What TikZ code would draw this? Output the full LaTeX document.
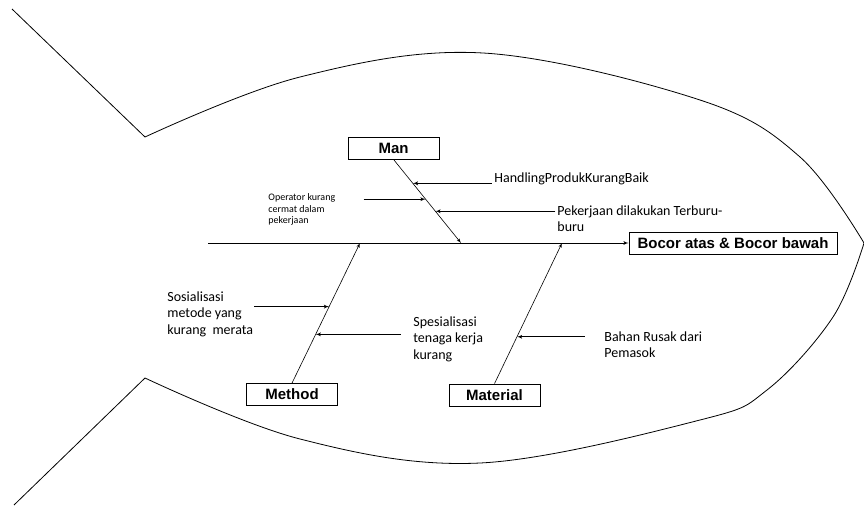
\documentclass[tikz,border=0pt]{standalone}
\usepackage{fontspec}
\usepackage{tikz}
\usetikzlibrary{arrows, calc}
\newfontfamily\boxfont{Liberation Sans}
\newfontfamily\causefont{Carlito}

\begin{document}
\begin{tikzpicture}[x=1pt, y=-1pt, line width=0.8pt]
    % Define the style for the nodes
    \tikzstyle{block} = [rectangle, draw, font=\boxfont\bfseries\fontsize{15}{18}\selectfont, minimum width=91pt, minimum height=22pt, inner sep=0pt]
    \tikzstyle{cause} = [align=left, anchor=north west, inner sep=0pt, font=\causefont\fontsize{14}{16.5}\selectfont]
    \tikzstyle{line} = [draw, -latex']
    \tikzstyle{bone} = [draw, -latex', line width=0.6pt]

    \useasboundingbox (0,0) rectangle (864,506);

    % Draw the fish outline
    \draw (12,9) -- (145,137);
    \draw (14,505) -- (145,378);
    \draw plot[smooth, tension=0.6] coordinates {(145,137) (300,77) (483,53) (700,100) (800,157) (864,243)};
    \draw plot[smooth, tension=0.6] coordinates {(864,243) (833,317) (767,390) (700,420) (480,463) (300,439) (145,378)};

    % Place the nodes
    \node [block] (man) at (393.5,148) {Man};
    \node [block] (method) at (292,394.5) {Method};
    \node [block] (material) at (494.5,395) {Material};
    \node [block, minimum width=208pt] (bocor) at (733,243) {Bocor atas \& Bocor bawah};
    \coordinate (spinestart) at (208,243);
    \coordinate (manhit) at (461,243);
    \coordinate (methodhit) at (360,243);
    \coordinate (materialhit) at (562,243);

    % Connect the nodes with paths
    \path [line] (spinestart) -- (bocor);
    \path [bone] (man.south) -- (manhit);
    \path [bone] (method.north) -- (methodhit);
    \path [bone] (material.north) -- (materialhit);

    % Causes on the bones
    \coordinate (handling) at ($(man.south)!0.286!(manhit)$);
    \coordinate (operator) at ($(man.south)!0.476!(manhit)$);
    \coordinate (pekerjaan) at ($(man.south)!0.62!(manhit)$);
    \coordinate (sosialisasi) at ($(method.north)!0.546!(methodhit)$);
    \coordinate (spesialisasi) at ($(method.north)!0.348!(methodhit)$);
    \coordinate (bahan) at ($(material.north)!0.333!(materialhit)$);

    \path [line] ($(handling)+(79,0)$) -- (handling);
    \path [line] ($(operator)+(-62,0)$) -- (operator);
    \path [line] ($(pekerjaan)+(120,0)$) -- (pekerjaan);
    \path [line] ($(sosialisasi)+(-75,0)$) -- (sosialisasi);
    \path [line] ($(spesialisasi)+(85,0)$) -- (spesialisasi);
    \path [line] ($(bahan)+(68,0)$) -- (bahan);

    % Labels of the causes
    \node [cause, anchor=base west] (handlingtext) at (494,182) {HandlingProdukKurangBaik};
    \node [cause, font=\causefont\fontsize{10}{11.5}\selectfont] (operatortext) at (268,193.5) {Operator kurang\\cermat dalam\\pekerjaan};
    \node [cause] (pekerjaantext) at (557,205) {Pekerjaan dilakukan Terburu-\\buru};
    \node [cause] (sosialisasitext) at (167,291) {Sosialisasi\\metode yang\\kurang\ \ merata};
    \node [cause] (spesialisasitext) at (413,316) {Spesialisasi\\tenaga kerja\\kurang};
    \node [cause] (bahantext) at (604,331) {Bahan Rusak dari\\Pemasok};
\end{tikzpicture}
\end{document}
